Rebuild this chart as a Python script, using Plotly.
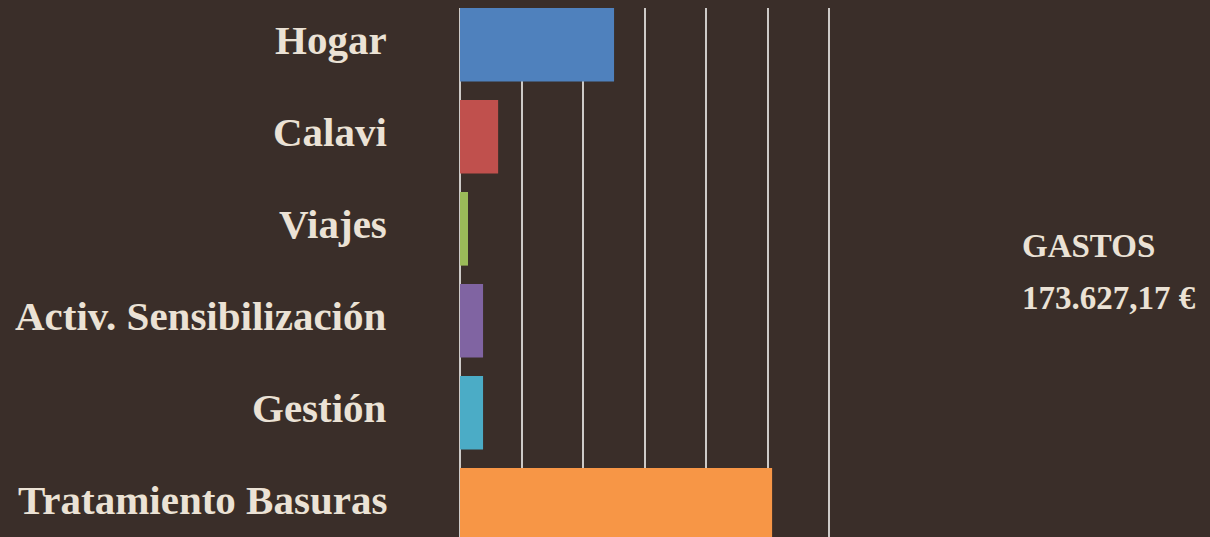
import plotly.graph_objects as go

categories = ["Hogar", "Calavi", "Viajes", "Activ. Sensibilización", "Gestión", "Tratamiento Basuras"]
values = [50100, 12400, 2600, 7500, 7500, 101500]
colors = ["#4f81bd", "#c0504d", "#9bbb59", "#8064a2", "#4bacc6", "#f79646"]
total_label = "GASTOS"
total_value = "173.627,17 €"

BG = "#3a2e29"
TXT = "#ebe2d5"
FONT = "Liberation Serif"

fig = go.Figure(go.Bar(
    x=values, y=categories, orientation="h",
    marker=dict(color=colors, line=dict(width=0)),
    hoverinfo="x+y",
))

fig.update_layout(
    width=1210, height=537,
    margin=dict(l=460, r=370, t=8, b=0),
    paper_bgcolor=BG, plot_bgcolor=BG,
    bargap=0.2,
    showlegend=False,
    font=dict(family=FONT, color=TXT),
)
fig.update_xaxes(
    range=[0, 123577], tick0=0, dtick=20000,
    showgrid=True, gridcolor="#cdcac7", gridwidth=1.6,
    zeroline=True, zerolinecolor="#cdcac7", zerolinewidth=1.6,
    showticklabels=False, showline=False, ticks="",
)
fig.update_yaxes(
    type="category", categoryorder="array", categoryarray=categories,
    range=[5.35, -0.4],
    showgrid=False, zeroline=False, showline=False, ticks="",
    showticklabels=False,
)

# category labels (as annotations so they can sit slightly above bar centre, as in the reference)
lx = (389 - 460) / 380
for cat in categories:
    fig.add_annotation(xref="paper", yref="y", x=lx, y=cat, text=cat,
                       showarrow=False, xanchor="right", yanchor="middle", yshift=5,
                       font=dict(family=FONT, size=41, color=TXT, weight="bold"))

ax = (1020 - 460) / 380
fig.add_annotation(xref="paper", yref="paper", x=ax, y=1 - (246 - 8) / 529,
                   text=total_label, showarrow=False, xanchor="left", yanchor="middle",
                   font=dict(family=FONT, size=33, color=TXT, weight="bold"))
fig.add_annotation(xref="paper", yref="paper", x=ax, y=1 - (298 - 8) / 529,
                   text=total_value, showarrow=False, xanchor="left", yanchor="middle",
                   font=dict(family=FONT, size=33, color=TXT, weight="bold"))

fig.write_html(
    "out.html",
    config={"displayModeBar": False},
    post_script="document.body.style.margin='0';document.body.style.background='#3a2e29';",
)
